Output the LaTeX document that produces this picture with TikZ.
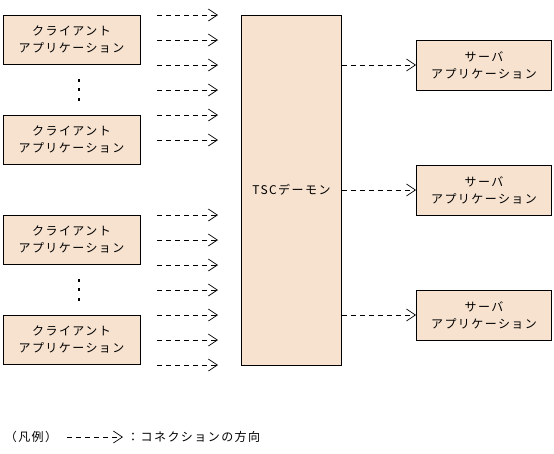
\documentclass[tikz,border=0pt]{standalone}
\usepackage{fontspec}
\newfontfamily\jpfont[LetterSpace=12]{Noto Sans CJK JP}
\usetikzlibrary{arrows.meta, positioning}
\definecolor{peach}{RGB}{246, 226, 207}
\tikzset{
    appnode/.style = {draw, rectangle, fill=peach, inner sep = 0em, line width=0.8pt,
      minimum width=137pt, minimum height=49pt, align=center,
      font=\jpfont\fontsize{12}{17}\selectfont},
    textnode/.style  = {draw=none, fill=none, rectangle, inner sep = 0em,
      font=\jpfont\fontsize{12}{17}\selectfont},
    dotnode/.style = {fill=black, rectangle, inner sep = 0em, minimum width=2.5pt, minimum height=3pt},
    connect/.style = {black, line width=0.7pt, dash pattern=on 5pt off 4pt,
      -{Straight Barb[length=9pt, width=12pt, line width=0.7pt]}}
}

\begin{document}
\begin{tikzpicture}[x=1pt, y=-1pt]
\useasboundingbox (0,0) rectangle (554,453);

% clients
\node[appnode, name=c1] at (71.5, 39.5) {クライアント\\アプリケーション};
\node[appnode, name=c2] at (71.5, 139.5) {クライアント\\アプリケーション};
\node[appnode, name=c3] at (71.5, 239.5) {クライアント\\アプリケーション};
\node[appnode, name=c4] at (71.5, 339.5) {クライアント\\アプリケーション};
\foreach \y in {80, 89.5, 99, 280, 289.5, 299}
  \node[dotnode] at (79, \y) {};

% daemon
\node[appnode, name=tsc, minimum width=100pt, minimum height=350pt] at (291.5, 190) {TSCデーモン};

% servers
\node[appnode, name=s1, minimum width=135pt, minimum height=50pt] at (484, 65) {サーバ\\アプリケーション};
\node[appnode, name=s2, minimum width=135pt, minimum height=50pt] at (484, 190) {サーバ\\アプリケーション};
\node[appnode, name=s3, minimum width=135pt, minimum height=50pt] at (484, 315) {サーバ\\アプリケーション};

% client connections
\foreach \y in {15, 40, 65, 90, 115, 140, 215, 240, 265, 290, 315, 340, 365} {
  \coordinate (from\y) at (157, \y);
  \coordinate (to\y) at (218, \y);
  \draw[connect] (from\y) -- (to\y);
}

% server connections
\foreach \s in {s1, s2, s3}
  \draw[connect] (tsc.east |- \s.west) -- (\s.west);

% legend
\node[textnode, name=legend] at (31, 437) {（凡例）};
\coordinate (legfrom) at (67, 437);
\coordinate (legto) at (123, 437);
\draw[connect] (legfrom) -- (legto);
\node[textnode, name=legtext, anchor=west] at (127, 437) {：コネクションの方向};
\end{tikzpicture}
\end{document}
